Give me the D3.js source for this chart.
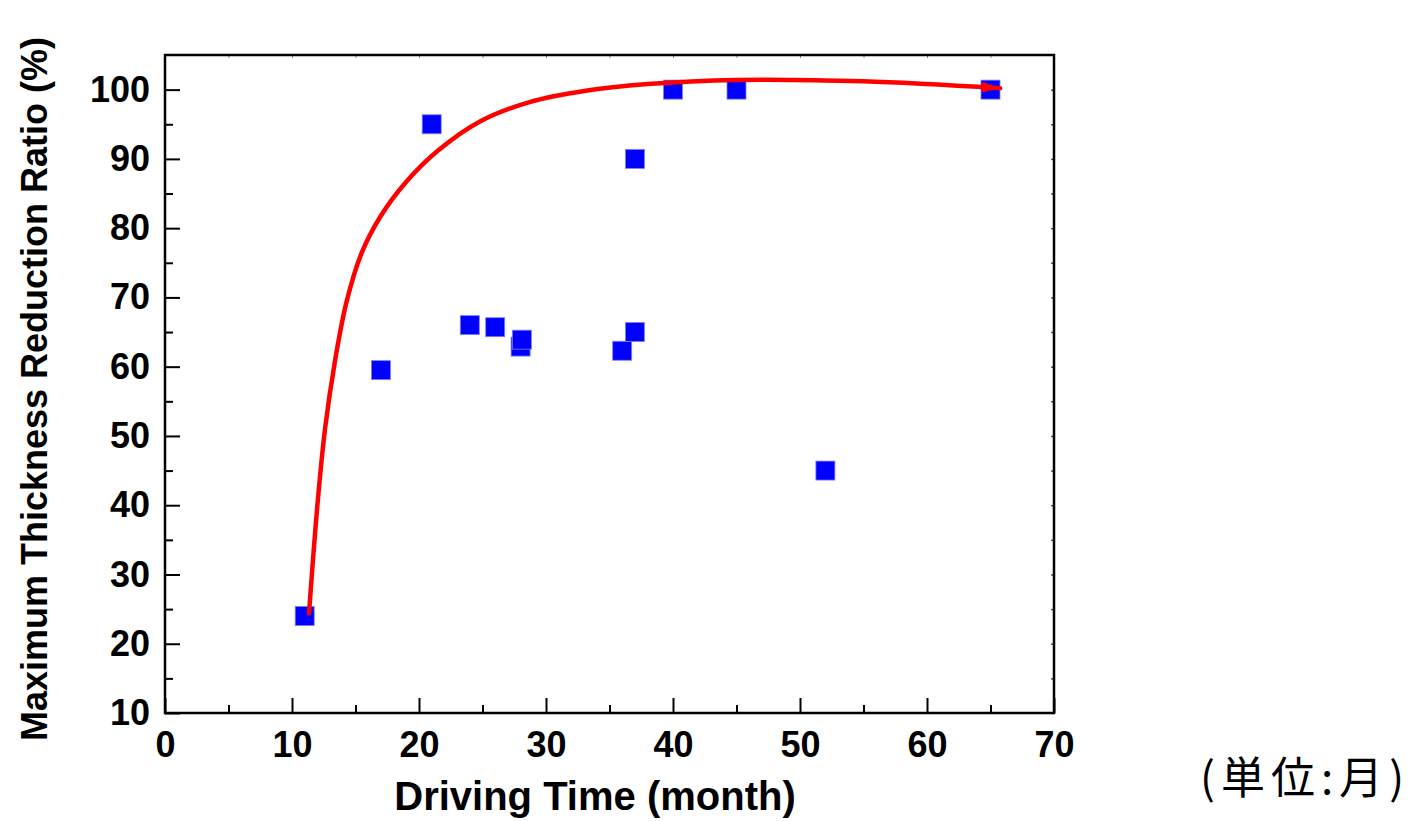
<!DOCTYPE html>
<html>
<head>
<meta charset="utf-8">
<script src="https://cdn.jsdelivr.net/npm/d3@7"></script>
<style>
  html, body { margin: 0; padding: 0; background: #fff; }
  svg { display: block; }
  .tick text { font-family: "Liberation Sans", Arial, sans-serif; font-weight: bold; font-size: 36px; fill: #000; }
</style>
</head>
<body>
<svg id="chart" width="1414" height="821"></svg>
<script>
// measured points (driving time in months, thickness reduction %)
var months = [11, 17, 21, 24, 26, 28, 28.1, 36, 37, 37, 40, 45, 52, 65];
var ratios = [24, 59.5, 95, 66, 65.7, 62.9, 63.9, 62.3, 65, 90, 100, 100, 45, 100];

// red trend curve
var fitMonths = [11.34, 12.0, 12.6, 13.4, 14.3, 15.5, 17.0, 19.0, 21.5, 24.8, 28.7, 33.0, 38.0, 45.0, 55.0, 65.75];
var fitRatios = [24.4, 40.0, 51.0, 61.0, 69.4, 76.5, 81.8, 86.7, 91.2, 95.4, 98.2, 99.8, 100.8, 101.4, 101.2, 100.2];

var xTicks = [0, 10, 20, 30, 40, 50, 60, 70];
var xMinor = [5, 15, 25, 35, 45, 55, 65];
var yTicks = [10, 20, 30, 40, 50, 60, 70, 80, 90, 100];
var yMinor = [15, 25, 35, 45, 55, 65, 75, 85, 95];

var xTitle = "Driving Time (month)";
var yTitle = "Maximum Thickness Reduction Ratio (%)";
var unitNote = "(単位:月)";

var svg = d3.select("#chart"),
    plotLeft = 165, plotRight = 1054, plotTop = 55, plotBottom = 713;

var x = d3.scaleLinear().domain([0, 70]).range([plotLeft, plotRight]);
var y = d3.scaleLinear().domain([10, 105]).range([plotBottom, plotTop]);

// bottom axis, ticks pointing inward
var gx = svg.append("g")
    .attr("transform", "translate(0," + plotBottom + ")")
    .call(d3.axisBottom(x).tickValues(xTicks).tickSizeInner(-15).tickSizeOuter(0).tickPadding(18).tickFormat(d3.format("d")));
gx.select(".domain").remove();
gx.selectAll(".tick line").attr("stroke", "#000").attr("stroke-width", 2);

var gxm = svg.append("g")
    .attr("transform", "translate(0," + plotBottom + ")")
    .call(d3.axisBottom(x).tickValues(xMinor).tickSizeInner(-8).tickSizeOuter(0).tickFormat(""));
gxm.select(".domain").remove();
gxm.selectAll(".tick line").attr("stroke", "#000").attr("stroke-width", 2);

// left axis
var gy = svg.append("g")
    .attr("transform", "translate(" + plotLeft + ",0)")
    .call(d3.axisLeft(y).tickValues(yTicks).tickSizeInner(-15).tickSizeOuter(0).tickPadding(15).tickFormat(d3.format("d")));
gy.select(".domain").remove();
gy.selectAll(".tick line").attr("stroke", "#000").attr("stroke-width", 2);

var gym = svg.append("g")
    .attr("transform", "translate(" + plotLeft + ",0)")
    .call(d3.axisLeft(y).tickValues(yMinor).tickSizeInner(-8).tickSizeOuter(0).tickFormat(""));
gym.select(".domain").remove();
gym.selectAll(".tick line").attr("stroke", "#000").attr("stroke-width", 2);

// faint mirror ticks on top and right
var gt = svg.append("g")
    .attr("transform", "translate(0," + plotTop + ")")
    .call(d3.axisTop(x).tickValues(xTicks.concat(xMinor)).tickSizeInner(-3).tickSizeOuter(0).tickFormat(""));
gt.select(".domain").remove();
gt.selectAll(".tick line").attr("stroke", "#888").attr("stroke-width", 1);

var gr = svg.append("g")
    .attr("transform", "translate(" + plotRight + ",0)")
    .call(d3.axisRight(y).tickValues(yTicks.concat(yMinor)).tickSizeInner(-3).tickSizeOuter(0).tickFormat(""));
gr.select(".domain").remove();
gr.selectAll(".tick line").attr("stroke", "#555").attr("stroke-width", 1.5);

// frame
svg.append("rect")
    .attr("x", plotLeft).attr("y", plotTop)
    .attr("width", plotRight - plotLeft).attr("height", plotBottom - plotTop)
    .attr("fill", "none").attr("stroke", "#000").attr("stroke-width", 2.5);

// data squares
var pts = months.map(function (m, i) { return [m, ratios[i]]; });
var sq = 19;
svg.append("g").selectAll("rect")
    .data(pts)
    .enter().append("rect")
    .attr("x", function (d) { return x(d[0]) - sq / 2; })
    .attr("y", function (d) { return y(d[1]) - sq / 2; })
    .attr("width", sq).attr("height", sq)
    .attr("fill", "#0000ff")
    .attr("stroke", "#7f7fff").attr("stroke-width", 0.8);

// arrow head for the trend line
svg.append("defs").append("marker")
    .attr("id", "arrow")
    .attr("markerUnits", "userSpaceOnUse")
    .attr("viewBox", "0 0 18 11")
    .attr("refX", 18).attr("refY", 5.5)
    .attr("markerWidth", 18).attr("markerHeight", 11)
    .attr("orient", "auto")
    .append("path")
    .attr("d", "M0,0 L18,5.5 L0,11 Z")
    .attr("fill", "#ff0000");

var fit = fitMonths.map(function (m, i) { return [m, fitRatios[i]]; });
var line = d3.line()
    .x(function (d) { return x(d[0]); })
    .y(function (d) { return y(d[1]); })
    .curve(d3.curveCatmullRom.alpha(0.5));

svg.append("path")
    .datum(fit)
    .attr("fill", "none")
    .attr("stroke", "#ff0000")
    .attr("stroke-width", 4.5)
    .attr("stroke-linejoin", "round")
    .attr("stroke-linecap", "round")
    .attr("marker-end", "url(#arrow)")
    .attr("d", line);

// titles
svg.append("text")
    .attr("x", 595).attr("y", 810)
    .attr("text-anchor", "middle")
    .style("font-family", "'Liberation Sans', Arial, sans-serif")
    .style("font-weight", "bold")
    .style("font-size", "40px")
    .text(xTitle);

svg.append("text")
    .attr("transform", "translate(47,389) rotate(-90)")
    .attr("text-anchor", "middle")
    .style("font-family", "'Liberation Sans', Arial, sans-serif")
    .style("font-weight", "bold")
    .style("font-size", "36px")
    .text(yTitle);

svg.append("text")
    .attr("x", 1200).attr("y", 794)
    .attr("textLength", 204)
    .attr("lengthAdjust", "spacing")
    .style("font-family", "'Noto Sans CJK JP', sans-serif")
    .style("font-size", "44px")
    .text(unitNote);
</script>
</body>
</html>
